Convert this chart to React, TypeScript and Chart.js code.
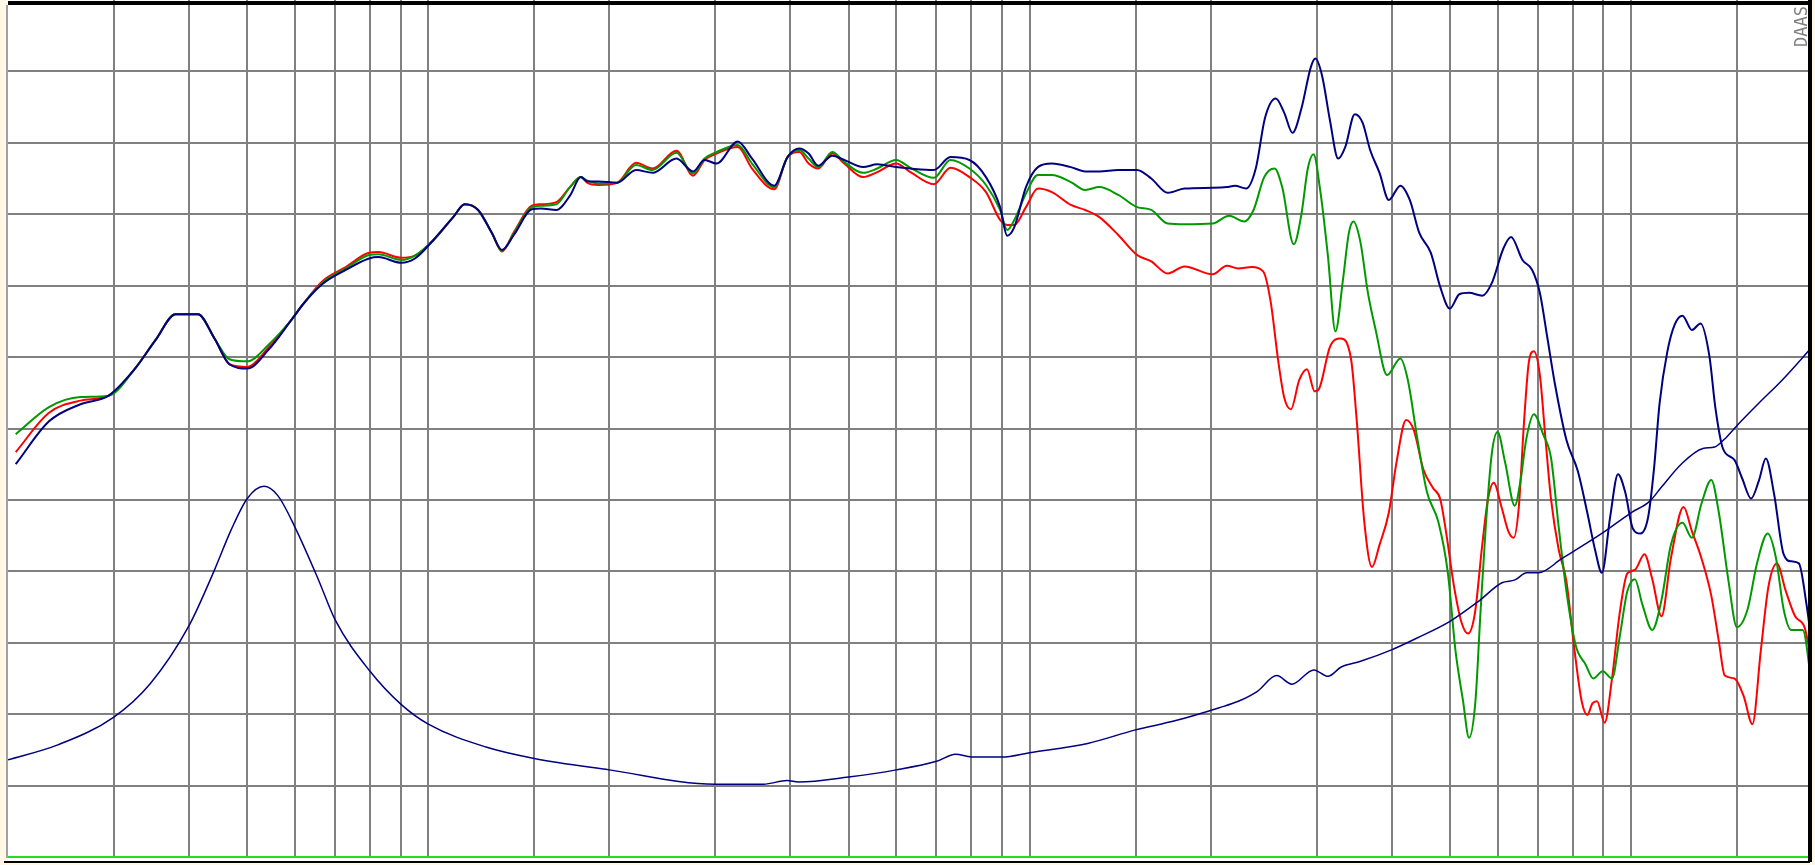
import React, { useEffect, useRef } from "react";
import { Chart, registerables } from "chart.js";

Chart.register(...registerables);

// Vertical grid lines (Hz) of the log frequency axis 20 Hz .. 20 kHz
const gridHz = [30, 40, 50, 60, 70, 80, 90, 100, 150, 200, 300, 400, 500, 600, 700, 800, 900, 1000, 1500, 2000, 3000, 4000, 5000, 6000, 7000, 8000, 9000, 10000, 15000];

// Frequency response, navy trace
const navyHz = [20.6, 23.4, 26.4, 29.4, 32.4, 35.2, 38, 41.4, 44.1, 46.7, 50, 54.2, 59.2, 61.9, 66.6, 72.9, 79.7, 82.6, 90.2, 95, 102, 110, 115, 121, 127.5, 132.6, 139, 148.6, 154, 163.3, 172, 179.3, 183.9, 191.8, 206, 221.5, 236, 258.6, 275.6, 288, 301.5, 327, 345.4, 376, 395.7, 414, 429, 445, 469.7, 491.7, 528.5, 557.9, 599.6, 633.5, 693, 738.5, 794, 846, 893, 917.5, 943, 986, 1032, 1089, 1171, 1237, 1306, 1404, 1509, 1593, 1697, 1809, 2015, 2128, 2195, 2291, 2377, 2463, 2566, 2651, 2736, 2831, 2935, 2987, 3066, 3157, 3259, 3348, 3473, 3579, 3683, 3818, 3956, 4135, 4287, 4446, 4647, 4818, 4997, 5183, 5378, 5658, 5871, 6135, 6317, 6600, 6850, 7054, 7263, 7475, 7810, 8160, 8460, 8716, 8946, 9233, 9515, 9780, 10070, 10370, 10680, 10920, 11160, 11490, 11830, 12180, 12630, 13050, 13510, 13810, 14220, 14860, 15310, 15840, 16320, 16760, 17300, 17940, 18470, 19020, 19580, 20000];
const navyDb = [27.5, 30.5, 31.7, 32.3, 34.1, 36.2, 38.0, 38.0, 36.3, 34.5, 34.2, 35.5, 37.6, 38.7, 40.1, 41.1, 41.9, 42.0, 41.6, 41.9, 43.2, 44.8, 45.7, 45.3, 43.7, 42.5, 43.6, 45.35, 45.4, 45.3, 46.3, 47.6, 47.3, 47.3, 47.2, 48.1, 47.9, 48.9, 48.0, 48.8, 48.55, 50.1, 48.9, 47.0, 49.0, 49.6, 49.25, 48.4, 49.1, 48.8, 48.3, 48.5, 48.3, 48.2, 48.1, 49.0, 48.8, 47.6, 45.5, 43.5, 44.1, 46.9, 48.3, 48.55, 48.3, 48.0, 48.0, 48.1, 48.1, 47.5, 46.5, 46.8, 46.85, 46.9, 47.0, 46.8, 48.2, 51.75, 53.1, 52.1, 50.7, 52.4, 55.3, 55.9, 54.65, 51.6, 48.9, 49.7, 52.0, 51.4, 49.5, 47.9, 46.0, 47.0, 46.0, 43.7, 42.3, 39.9, 38.4, 39.4, 39.5, 39.3, 40.2, 42.6, 43.4, 41.8, 41.1, 39.5, 36.3, 33.1, 29.2, 27.0, 24.1, 21.5, 19.9, 23.8, 26.8, 25.55, 23.0, 22.65, 23.8, 27.15, 31.8, 35.35, 37.3, 37.9, 36.9, 37.35, 35.0, 31.5, 28.6, 27.8, 26.5, 25.1, 26.35, 27.9, 25.4, 21.2, 20.7, 20.56, 17.7, 14.8];

// Frequency response, green trace
const greenHz = [20.6, 23.4, 26.4, 29.4, 32.4, 35.2, 38, 41.4, 44.1, 46.7, 50, 54.2, 59.2, 61.9, 66.6, 72.9, 79.7, 82.6, 90.2, 95, 102, 110, 115, 121, 127.5, 132.6, 139, 148.6, 154, 163.3, 172, 179.3, 183.9, 191.8, 206, 221.5, 236, 258.6, 275.6, 288, 301.5, 327, 345.4, 376, 395.7, 414, 429, 445, 469.7, 491.7, 528.5, 557.9, 599.6, 633.5, 693, 738.5, 794, 846, 893, 917.5, 943, 986, 1032, 1089, 1171, 1237, 1306, 1404, 1509, 1593, 1697, 1809, 2015, 2147, 2273, 2357, 2455, 2554, 2630, 2749, 2831, 2901, 2965, 3044, 3133, 3225, 3321, 3395, 3455, 3547, 3652, 3760, 3930, 4135, 4255, 4414, 4578, 4783, 4960, 5107, 5258, 5378, 5512, 5618, 5741, 5871, 6001, 6174, 6409, 6551, 6696, 6894, 7150, 7362, 7580, 7810, 8100, 8400, 8652, 8975, 9300, 9576, 9860, 10150, 10450, 10850, 11240, 11650, 12180, 12630, 13100, 13600, 14000, 14530, 15000, 15630, 16200, 16880, 17430, 17940, 18470, 19300, 20000];
const greenDb = [29.6, 31.5, 32.2, 32.3, 34.1, 36.2, 38.0, 38.0, 36.3, 34.85, 34.7, 35.85, 37.6, 38.7, 40.2, 41.2, 42.15, 42.2, 41.8, 42.1, 43.2, 44.8, 45.7, 45.3, 43.7, 42.45, 43.7, 45.5, 45.6, 45.7, 46.9, 47.6, 47.35, 47.15, 47.2, 48.45, 48.1, 49.3, 47.85, 48.9, 49.35, 49.85, 48.55, 46.9, 49.0, 49.5, 48.9, 48.3, 49.35, 48.65, 47.9, 48.2, 48.8, 48.25, 47.55, 48.8, 48.2, 47.05, 45.3, 43.9, 44.6, 46.45, 47.75, 47.75, 47.25, 46.7, 46.9, 46.35, 45.5, 45.3, 44.35, 44.3, 44.35, 44.9, 44.5, 45.3, 47.6, 48.2, 46.9, 42.9, 45.0, 48.2, 49.2, 46.6, 42.1, 36.8, 40.5, 43.7, 44.5, 43.1, 39.5, 36.95, 33.75, 34.9, 33.4, 29.25, 25.55, 23.45, 19.9, 14.45, 10.9, 8.35, 10.9, 17.0, 23.45, 28.3, 29.75, 27.65, 24.6, 26.35, 29.25, 31.0, 29.55, 27.95, 23.15, 18.6, 14.75, 13.5, 12.5, 13.0, 12.5, 15.4, 18.6, 19.45, 17.65, 15.9, 18.0, 21.85, 23.4, 22.35, 24.75, 26.4, 24.1, 19.3, 16.1, 17.35, 20.55, 22.65, 20.9, 17.35, 15.9, 15.9, 11.9];

// Frequency response, red trace
const redHz = [20.6, 23.4, 26.4, 29.4, 32.4, 35.2, 38, 41.4, 44.1, 46.7, 50, 54.2, 59.2, 61.9, 66.6, 72.9, 79.7, 82.6, 90.2, 95, 102, 110, 115, 121, 127.5, 132.6, 139, 148.6, 154, 163.3, 172, 179.3, 183.9, 191.8, 206, 221.5, 236, 258.6, 275.6, 288, 301.5, 327, 345.4, 376, 395.7, 414, 429, 445, 469.7, 491.7, 528.5, 557.9, 599.6, 633.5, 693, 738.5, 794, 846, 893, 917.5, 943, 986, 1032, 1089, 1171, 1237, 1306, 1404, 1509, 1593, 1697, 1809, 2015, 2128, 2224, 2340, 2445, 2516, 2591, 2651, 2719, 2808, 2892, 2978, 3031, 3157, 3289, 3424, 3499, 3602, 3709, 3818, 3956, 4075, 4227, 4353, 4515, 4683, 4818, 4924, 5078, 5228, 5359, 5500, 5658, 5783, 5911, 6100, 6253, 6382, 6505, 6649, 6766, 6894, 7054, 7209, 7362, 7580, 7810, 8041, 8280, 8460, 8628, 8780, 9042, 9300, 9576, 9860, 10150, 10530, 10850, 11240, 11650, 12230, 12630, 13100, 13600, 14000, 14320, 14860, 15400, 15920, 16440, 16930, 17490, 18080, 18750, 19450, 20000];
const redDb = [28.35, 31.1, 31.95, 32.3, 34.1, 36.2, 38.0, 38.0, 36.3, 34.5, 34.3, 35.65, 37.6, 38.7, 40.3, 41.3, 42.3, 42.35, 41.95, 42.1, 43.2, 44.8, 45.7, 45.3, 43.7, 42.4, 43.8, 45.6, 45.7, 45.85, 46.9, 47.6, 47.2, 47.05, 47.2, 48.6, 48.2, 49.45, 47.7, 48.8, 49.25, 49.7, 48.2, 46.75, 49.0, 49.35, 48.55, 48.2, 49.25, 48.55, 47.6, 47.95, 48.55, 47.95, 47.1, 48.25, 47.6, 46.55, 44.6, 44.25, 44.25, 45.5, 46.8, 46.55, 45.65, 45.3, 44.8, 43.55, 42.15, 41.7, 40.85, 41.35, 40.8, 41.4, 41.2, 41.3, 41.0, 38.9, 34.7, 32.15, 31.35, 33.4, 34.15, 32.6, 32.8, 35.7, 36.3, 34.85, 30.55, 23.45, 20.3, 21.85, 24.1, 27.65, 30.6, 29.9, 27.15, 25.85, 25.05, 22.8, 18.95, 16.4, 15.65, 17.05, 21.85, 25.05, 26.2, 24.4, 22.8, 22.35, 24.4, 30.85, 34.7, 35.4, 33.75, 29.25, 25.05, 21.55, 19.3, 14.75, 10.9, 9.95, 10.75, 10.9, 9.4, 12.5, 17.05, 19.85, 20.1, 21.2, 19.45, 16.85, 20.9, 24.5, 22.8, 20.9, 18.3, 15.1, 12.7, 12.5, 11.25, 9.3, 14.45, 18.95, 20.55, 18.65, 16.85, 16.05, 13.5];

// Impedance trace (navy, lower curve)
const impHz = [20, 24.2, 30, 34.5, 40, 44, 47, 50, 53.3, 56.2, 60, 65.6, 70, 80, 90, 100, 124.7, 150, 200, 300, 361, 395, 413, 500, 600, 700, 753, 800, 900, 1000, 1249, 1500, 1750, 2067, 2223, 2392, 2575, 2729, 2969, 3133, 3297, 3551, 3997, 4418, 5000, 5577, 6100, 6414, 6706, 7017, 7680, 8944, 10000, 10740, 11240, 12120, 13170, 13780, 14300, 15000, 16340, 17850, 20000];
const impVal = [6.8, 7.85, 9.8, 12.15, 16.2, 20.0, 22.9, 25.1, 25.95, 25.3, 23.1, 19.45, 16.6, 13.0, 10.7, 9.3, 7.7, 6.9, 6.1, 5.1, 5.1, 5.35, 5.25, 5.6, 6.1, 6.7, 7.2, 7.0, 7.0, 7.3, 7.95, 8.9, 9.55, 10.45, 10.9, 11.6, 12.7, 12.1, 13.1, 12.65, 13.3, 13.7, 14.5, 15.35, 16.5, 17.9, 19.2, 19.4, 19.9, 19.9, 20.9, 22.65, 24.1, 24.9, 25.9, 27.5, 28.6, 28.7, 29.25, 30.2, 31.8, 33.4, 35.7];

const brandText = "DAAS";

const pts = (xs: number[], ys: number[]) => xs.map((x, i) => ({ x, y: ys[i] }));

const framePlugin = {
  id: "frame",
  beforeDraw(chart: any) {
    const ctx = chart.ctx;
    ctx.save();
    ctx.fillStyle = "#FFF8E7";
    ctx.fillRect(0, 0, chart.width, chart.height);
    ctx.fillStyle = "#FFFFFF";
    ctx.fillRect(8, 0, 1804, 861);
    ctx.restore();
  },
  afterDraw(chart: any) {
    const ctx = chart.ctx;
    ctx.save();
    ctx.fillStyle = "#A0A0A0";
    ctx.fillRect(6, 5, 2, 853);
    ctx.fillStyle = "#000000";
    ctx.fillRect(8, 1, 1804, 4);
    ctx.fillRect(1808, 0, 4, 862);
    ctx.fillRect(4, 861, 1806, 2);
    ctx.fillStyle = "#808080";
    ctx.font = '17px "DejaVu Sans Mono"';
    ctx.textAlign = "left";
    ctx.textBaseline = "alphabetic";
    ctx.translate(1807, 47);
    ctx.rotate(-Math.PI / 2);
    ctx.fillText(brandText, 0, 0);
    ctx.restore();
  },
};

export default function App() {
  const ref = useRef<HTMLCanvasElement | null>(null);
  useEffect(() => {
    document.body.style.margin = "0";
    document.body.style.background = "#FFF8E7";
    const common = {
      pointRadius: 0,
      fill: false,
      cubicInterpolationMode: "monotone" as const,
    };
    const chart = new Chart(ref.current as HTMLCanvasElement, {
      type: "line",
      data: {
        datasets: [
          { ...common, label: "navy", data: pts(navyHz, navyDb), borderColor: "#000080", borderWidth: 2 },
          { ...common, label: "impedance", data: pts(impHz, impVal), borderColor: "#000080", borderWidth: 1.5 },
          { ...common, label: "green", data: pts(greenHz, greenDb), borderColor: "#009900", borderWidth: 2 },
          { ...common, label: "red", data: pts(redHz, redDb), borderColor: "#FF0000", borderWidth: 2 },
        ],
      },
      options: {
        responsive: false,
        animation: false,
        devicePixelRatio: 1,
        layout: { padding: { left: 8, right: 3, top: 0, bottom: 8 } },
        plugins: { legend: { display: false }, tooltip: { enabled: false }, title: { display: false } },
        scales: {
          x: {
            type: "logarithmic",
            min: 20,
            max: 20000,
            afterBuildTicks: (s: any) => {
              s.ticks = gridHz.map((v) => ({ value: v }));
            },
            afterFit: (s: any) => {
              s.height = 0;
            },
            ticks: { display: false },
            grid: { color: "#808080", lineWidth: 2, drawTicks: false },
            border: { display: false },
          },
          y: {
            type: "linear",
            min: 0,
            max: 60,
            afterFit: (s: any) => {
              s.width = 0;
            },
            ticks: { display: false, stepSize: 5 },
            grid: {
              color: (c: any) => (c.tick && c.tick.value === 0 ? "#22DD22" : c.tick && c.tick.value === 60 ? "rgba(0,0,0,0)" : "#808080"),
              lineWidth: 2,
              drawTicks: false,
            },
            border: { display: false },
          },
        },
      } as any,
      plugins: [framePlugin],
    });
    return () => chart.destroy();
  }, []);
  return (
    <div style={{ width: 1815, height: 865 }}>
      <canvas ref={ref} width={1815} height={865} style={{ display: "block", width: 1815, height: 865 }} />
    </div>
  );
}
